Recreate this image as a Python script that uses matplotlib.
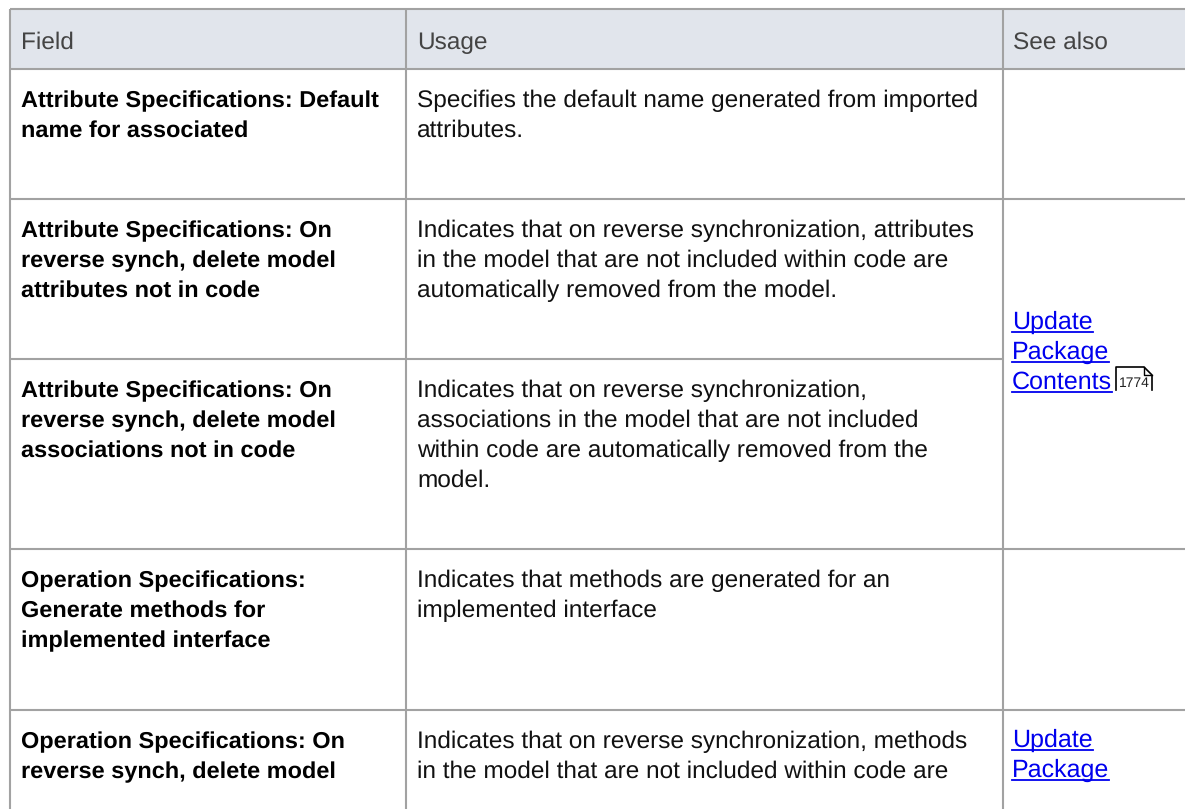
import matplotlib
matplotlib.use("Agg")
import matplotlib.pyplot as plt
from matplotlib.patches import Rectangle

W, H = 1185, 809
plt.rcParams['font.family'] = ['Liberation Sans', 'DejaVu Sans']
plt.rcParams['text.hinting'] = 'no_hinting'

headers = ["Field", "Usage", "See also"]
fields = [
    ["Attribute Specifications: Default", "name for associated"],
    ["Attribute Specifications: On", "reverse synch, delete model", "attributes not in code"],
    ["Attribute Specifications: On", "reverse synch, delete model", "associations not in code"],
    ["Operation Specifications:", "Generate methods for", "implemented interface"],
    ["Operation Specifications: On", "reverse synch, delete model"],
]
usages = [
    ["Specifies the default name generated from imported", "attributes."],
    ["Indicates that on reverse synchronization, attributes", "in the model that are not included within code are",
     "automatically removed from the model."],
    ["Indicates that on reverse synchronization,", "associations in the model that are not included",
     "within code are automatically removed from the", "model."],
    ["Indicates that methods are generated for an", "implemented interface"],
    ["Indicates that on reverse synchronization, methods", "in the model that are not included within code are"],
]
links = [(["Update", "Package", "Contents"], 329), (["Update", "Package"], 747)]
page_ref = "1774"

col_x = [10, 406, 1003, 1185]
row_y = [9, 69, 199, 359, 549, 710, 809]
LINE = "#a2a2a2"
LH = 30
FS_BOLD = 16.9
FS_BODY = 17.6

fig = plt.figure(figsize=(W / 100, H / 100), dpi=100)
ax = fig.add_axes([0, 0, 1, 1])
ax.set_xlim(0, W)
ax.set_ylim(H, 0)
ax.axis("off")

ax.add_patch(Rectangle((col_x[0], row_y[0]), W - col_x[0], row_y[1] - row_y[0], fc="#e1e5ec", ec="none"))
for y in row_y[:-1]:
    x_end = col_x[2] if y == row_y[3] else W
    ax.plot([col_x[0], x_end], [y, y], color=LINE, lw=1.5, solid_capstyle="butt")
for x in col_x[:-1]:
    ax.plot([x, x], [row_y[0], H], color=LINE, lw=1.5, solid_capstyle="butt")

for x, t in zip([21, 417, 1013], headers):
    ax.text(x, 49, t, fontsize=17.6, color="#444444", va="baseline", ha="left")

for i, lines in enumerate(fields):
    for j, t in enumerate(lines):
        ax.text(21, row_y[i + 1] + 38 + j * LH, t, fontsize=FS_BOLD, fontweight="bold", color="black", va="baseline")
for i, lines in enumerate(usages):
    for j, t in enumerate(lines):
        ax.text(417, row_y[i + 1] + 38 + j * LH, t, fontsize=FS_BODY, color="#111111", va="baseline")

r = fig.canvas.get_renderer()
for lines, y0 in links:
    for j, t in enumerate(lines):
        y = y0 + j * LH
        txt = ax.text(1012, y, t, fontsize=18, color="#0000ee", va="baseline")
        bb = txt.get_window_extent(r)
        ax.plot([1012, 1012 + bb.width], [y + 3, y + 3], color="#0000ee", lw=1.3)

# page reference flag
ax.plot([1116, 1116, 1144, 1152, 1152], [390, 367, 367, 375, 390], color="black", lw=1.2)
ax.plot([1144, 1144, 1152], [367, 375, 375], color="black", lw=1.0)
ax.text(1134, 383, page_ref, fontsize=10, color="#222222", ha="center", va="center")

fig.savefig("out.png", dpi=100)
